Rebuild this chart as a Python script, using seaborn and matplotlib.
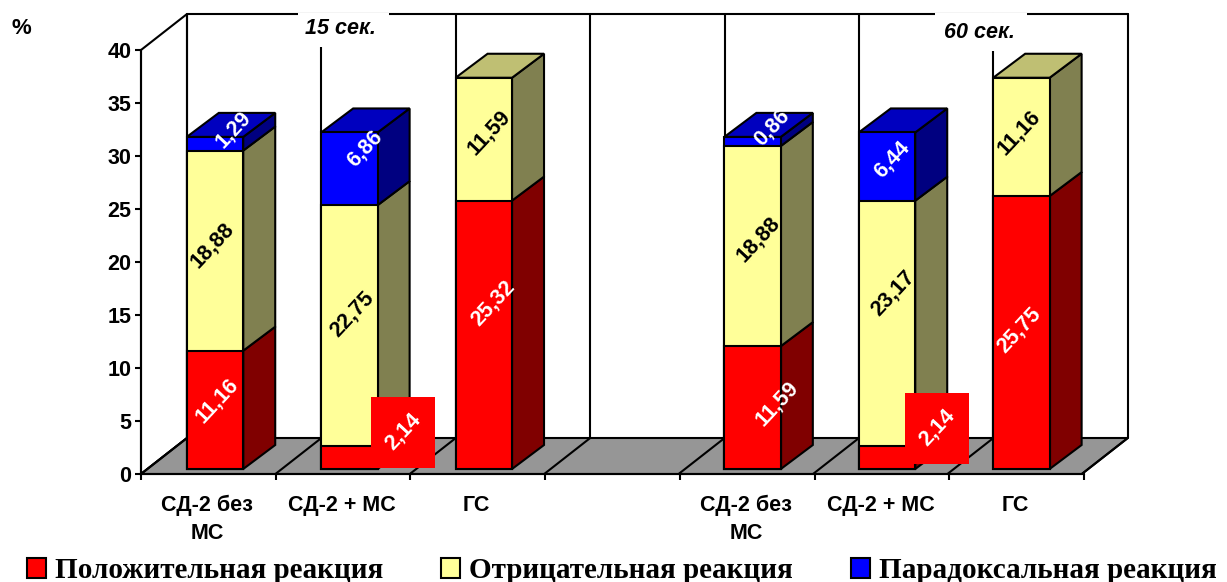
import matplotlib
matplotlib.use("Agg")
import matplotlib.pyplot as plt
from matplotlib.patches import Polygon, Rectangle
import numpy as np
import pandas as pd
import seaborn as sns

# Reaction shares, %, by group and exposure time
slots = [0, 1, 2, 4, 5, 6]
groups = ["СД-2 без\nМС", "СД-2 + МС", "ГС", "", "СД-2 без\nМС", "СД-2 + МС", "ГС"]
positive = [11.16, 2.14, 25.32, 11.59, 2.14, 25.75]
negative = [18.88, 22.75, 11.59, 18.88, 23.17, 11.16]
paradoxical = [1.29, 6.86, 0.0, 0.86, 6.44, 0.0]
series_names = ["Положительная реакция", "Отрицательная реакция", "Парадоксальная реакция"]
y_ticks = [0, 5, 10, 15, 20, 25, 30, 35, 40]

# Face colours per series: front, side, top
front_colors = ["#FF0000", "#FFFF99", "#0000FF"]
side_colors = ["#800000", "#808050", "#000080"]
top_colors = ["#BF0000", "#BFBF73", "#0000BF"]

# Figure geometry in pixels
W, H = 1227, 582
PX_SLOT, PX_UNIT = 134.4, 10.6
X0_PX, Y0_PX = 215.0, 469.0
BAR_W = 0.42
BAR_DX, BAR_DY = 32 / PX_SLOT, 24 / PX_UNIT
WALL_DX, WALL_DY = 46 / PX_SLOT, 36 / PX_UNIT
FLOOR_V = -5 / PX_UNIT
LEFT = (141 - X0_PX) / PX_SLOT
N_SLOTS = 7
LW = 1.5
LABEL_SIZE = 15.5

sns.set_theme(style="white")
plt.rcParams["font.family"] = ["Liberation Sans", "DejaVu Sans"]
plt.rcParams["text.color"] = "black"
plt.rcParams["axes.labelcolor"] = "black"
plt.rcParams["xtick.color"] = "black"
plt.rcParams["ytick.color"] = "black"

fig = plt.figure(figsize=(W / 100, H / 100), dpi=100)
ax = fig.add_axes([0, 0, 1, 1])

# Walls and floor behind the bars
right = LEFT + N_SLOTS
top_v = FLOOR_V + 40
ax.add_patch(Polygon([(LEFT, FLOOR_V), (LEFT + WALL_DX, FLOOR_V + WALL_DY),
                      (LEFT + WALL_DX, top_v + WALL_DY), (LEFT, top_v)],
                     closed=True, fc="white", ec="black", lw=LW, zorder=1))
ax.add_patch(Polygon([(LEFT, FLOOR_V), (right, FLOOR_V),
                      (right + WALL_DX, FLOOR_V + WALL_DY), (LEFT + WALL_DX, FLOOR_V + WALL_DY)],
                     closed=True, fc="#969696", ec="black", lw=LW, zorder=1))
ax.plot([LEFT + WALL_DX, right + WALL_DX], [top_v + WALL_DY] * 2, color="black", lw=LW, zorder=1)
for k in range(N_SLOTS + 1):
    xk = LEFT + k
    ax.plot([xk + WALL_DX] * 2, [FLOOR_V + WALL_DY, top_v + WALL_DY], color="black", lw=LW, zorder=1)
    ax.plot([xk, xk + WALL_DX], [FLOOR_V, FLOOR_V + WALL_DY], color="black", lw=LW, zorder=1)

# Front faces: cumulative totals drawn tallest first
stack = np.array([positive, negative, paradoxical])
cum = stack.cumsum(axis=0)
for level in (2, 1, 0):
    mask = stack[level] > 0
    frame = pd.DataFrame({"slot": np.array(slots)[mask], "total": cum[level][mask]})
    sns.barplot(data=frame, x="slot", y="total", native_scale=True, width=BAR_W,
                color=front_colors[level], saturation=1, edgecolor="black",
                linewidth=LW, errorbar=None, ax=ax, zorder=3)

# Side and top faces give the columns their depth
for i, slot in enumerate(slots):
    xr = slot + BAR_W / 2
    xl = slot - BAR_W / 2
    base = 0.0
    top_level = 0
    for level in range(3):
        if stack[level][i] <= 0:
            continue
        up = cum[level][i]
        ax.add_patch(Polygon([(xr, base), (xr + BAR_DX, base + BAR_DY),
                              (xr + BAR_DX, up + BAR_DY), (xr, up)],
                             closed=True, fc=side_colors[level], ec="black", lw=LW, zorder=2.5))
        base = up
        top_level = level
    ax.add_patch(Polygon([(xl, base), (xr, base), (xr + BAR_DX, base + BAR_DY), (xl + BAR_DX, base + BAR_DY)],
                         closed=True, fc=top_colors[top_level], ec="black", lw=LW, zorder=2.5))

ax.set_xlim(-X0_PX / PX_SLOT, (W - X0_PX) / PX_SLOT)
ax.set_ylim((Y0_PX - H) / PX_UNIT, Y0_PX / PX_UNIT)
ax.axis("off")


def to_data(px, py):
    return (px - X0_PX) / PX_SLOT, (Y0_PX - py) / PX_UNIT


# Shift of each value label from the middle of its segment, in pixels
label_shift = [
    [(2, -9), (0, 0), (9, -32), (24, -4), (0, 0), (-2, -2)],
    [(-3, -5), (3, -12), (5, -7), (6, -7), (6, -30), (-2, -4)],
    [(18, -14), (15, -20), (0, 0), (19, -14), (5, -7), (0, 0)],
]
label_colors = ["white", "black", "white"]
for level in range(3):
    for i, slot in enumerate(slots):
        value = stack[level][i]
        if value <= 0:
            continue
        mid = cum[level][i] - value / 2
        sx, sy = label_shift[level][i]
        cx = slot + sx / PX_SLOT
        cy = mid - sy / PX_UNIT
        if value < 3 and level == 0:
            # The thin red segment carries its value on a red plate
            cx, cy = to_data(403 if slot == 1 else 937, 432 if slot == 1 else 428)
            x0, y0 = to_data(371 if slot == 1 else 905, 468 if slot == 1 else 464)
            ax.add_patch(Rectangle((x0, y0), 64 / PX_SLOT, 71 / PX_UNIT, fc="#FF0000", ec="none", zorder=5))
        ax.text(cx, cy, f"{value:.2f}".replace(".", ","), color=label_colors[level], fontsize=LABEL_SIZE,
                fontweight="bold", rotation=47, ha="center", va="center",
                rotation_mode="anchor", zorder=6)

# Exposure captions on white plates
for caption, (bx0, bx1, by1), (tx, ty) in [("15 сек.", (298, 389, 47), (340, 28)),
                                           ("60 сек.", (935, 1027, 51), (979, 32))]:
    x0, y0 = to_data(bx0, by1)
    x1, y1 = to_data(bx1, 13)
    ax.add_patch(Rectangle((x0, y0), x1 - x0, y1 - y0, fc="white", ec="none", zorder=4))
    tdx, tdy = to_data(tx, ty)
    ax.text(tdx, tdy, caption, fontsize=15.5, fontweight="bold", fontstyle="italic",
            ha="center", va="center", color="black", zorder=6)

ax.text(*to_data(21, 29), "%", fontsize=16, fontweight="bold", ha="center", va="center", color="black")

# Front axes frame carrying the real ticks
frame_ax = fig.add_axes([141 / W, (H - 474) / H, (1084 - 141) / W, 424 / H])
frame_ax.patch.set_alpha(0)
frame_ax.set_xlim(0, N_SLOTS)
frame_ax.set_ylim(0, 40)
for name in ("top", "right"):
    frame_ax.spines[name].set_visible(False)
for name in ("left", "bottom"):
    frame_ax.spines[name].set_linewidth(LW)
    frame_ax.spines[name].set_color("black")
frame_ax.set_yticks(y_ticks)
frame_ax.set_yticklabels([str(v) for v in y_ticks], fontsize=15.5, fontweight="bold", color="black")
frame_ax.set_xticks(range(N_SLOTS + 1))
frame_ax.set_xticklabels([])
frame_ax.set_xticks(np.arange(N_SLOTS) + 0.49, minor=True)
frame_ax.set_xticklabels(groups, minor=True, fontsize=15.5, fontweight="bold", color="black", linespacing=1.45)
frame_ax.tick_params(axis="y", which="major", left=True, length=4, width=LW, pad=3)
frame_ax.tick_params(axis="x", which="major", bottom=True, length=4, width=LW)
frame_ax.tick_params(axis="x", which="minor", bottom=False, length=0, pad=15)

# Legend along the bottom edge
handles = [Rectangle((0, 0), 1, 1, fc=c, ec="black", lw=LW) for c in front_colors]
fig.legend(handles, series_names, loc="lower left", bbox_to_anchor=(21 / W, -8 / H), ncol=3,
           frameon=False, handlelength=0.65, handleheight=0.65, handletextpad=0.31, columnspacing=1.99,
           borderpad=0.2, borderaxespad=0, labelcolor="black",
           prop={"family": "Liberation Serif", "weight": "bold", "size": 21})

fig.savefig("out.png", dpi=100)
